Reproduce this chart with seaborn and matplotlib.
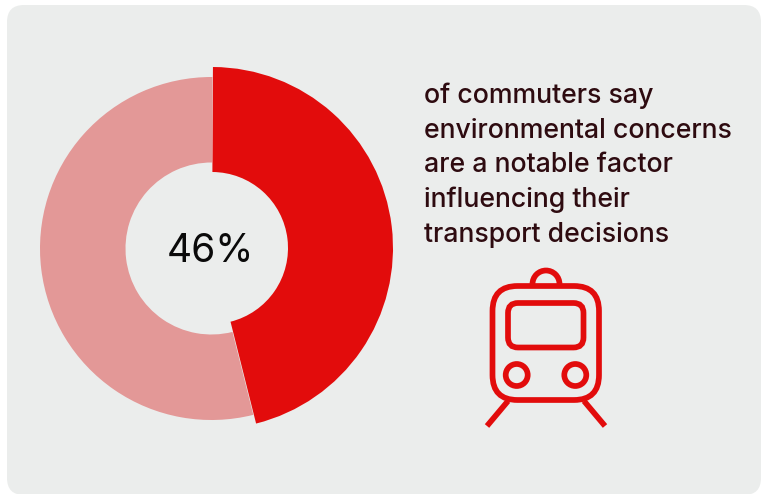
import matplotlib
matplotlib.use("Agg")
import matplotlib.pyplot as plt
from matplotlib.patches import Arc, Circle, FancyBboxPatch
import seaborn as sns

# Survey figures
categories = ["Environmental concerns notable", "Other commuters"]
shares = [46, 54]
headline = "46%"
caption_lines = [
    "of commuters say",
    "environmental concerns",
    "are a notable factor",
    "influencing their",
    "transport decisions",
]

RED = "#E20C0C"
PINK = "#E39897"
PANEL = "#EBEDEC"
INK = "#2E0B10"

sns.set_theme(style="white")
plt.rcParams["font.family"] = ["Inter", "DejaVu Sans"]

W, H = 761, 494
fig = plt.figure(figsize=(W / 100, H / 100), dpi=100, facecolor="white")
ax = fig.add_axes([0, 0, 1, 1])
px = 72 / 100


def flip(y):
    return H - y


# Rounded card behind everything
ax.add_patch(FancyBboxPatch((7, flip(495)), 754, 490,
                            boxstyle="round,pad=0,rounding_size=17",
                            fc=PANEL, ec="none", zorder=0))

# Pale ring for the remainder, heavier ring for the headline share
start_deg = 90 - 0.3
ax.pie(shares, colors=["none", PINK], startangle=start_deg, counterclock=False,
       center=(211.5, flip(248.5)), radius=171.5, frame=True,
       wedgeprops=dict(width=85.5, linewidth=0), labels=None)
ax.pie(shares, colors=[RED, "none"], startangle=start_deg, counterclock=False,
       center=(212, flip(248)), radius=181, frame=True,
       wedgeprops=dict(width=105, linewidth=0), labels=None)

ax.text(210.5, flip(252), headline, ha="center", va="center", fontsize=28,
        fontweight="normal", color="#0A0A0A")

# Caption block
line_y = [95.5, 131, 165.5, 199.5, 234.5]
for y, line in zip(line_y, caption_lines):
    ax.text(424, flip(y), line, ha="left", va="center", fontsize=19.2,
            fontweight="medium", color=INK)

# Train icon
lw = 5.7 * px
icon = dict(fc="none", ec=RED, lw=lw, zorder=3)
ax.add_patch(FancyBboxPatch((492.5 + 25, flip(400) + 25), 106.5 - 50, 114 - 50,
                            boxstyle="round,pad=25,rounding_size=25", **icon))
ax.add_patch(FancyBboxPatch((508 + 10, flip(347.5) + 10), 75.5 - 20, 44.5 - 20,
                            boxstyle="round,pad=10,rounding_size=10", **icon))
for cx in (516.7, 575.3):
    ax.add_patch(Circle((cx, flip(375)), 11, **icon))
ax.add_patch(Arc((546, flip(284)), 27, 27, theta1=0, theta2=180,
                 color=RED, lw=lw, zorder=3))
ax.plot([508, 487], [flip(401), flip(426)], color=RED, lw=lw,
        solid_capstyle="butt", zorder=3)
ax.plot([584, 605], [flip(401), flip(426)], color=RED, lw=lw,
        solid_capstyle="butt", zorder=3)

ax.set_xlim(0, W)
ax.set_ylim(0, H)
ax.set_aspect("equal")
ax.axis("off")

fig.savefig("out.png", dpi=100, facecolor="white")
